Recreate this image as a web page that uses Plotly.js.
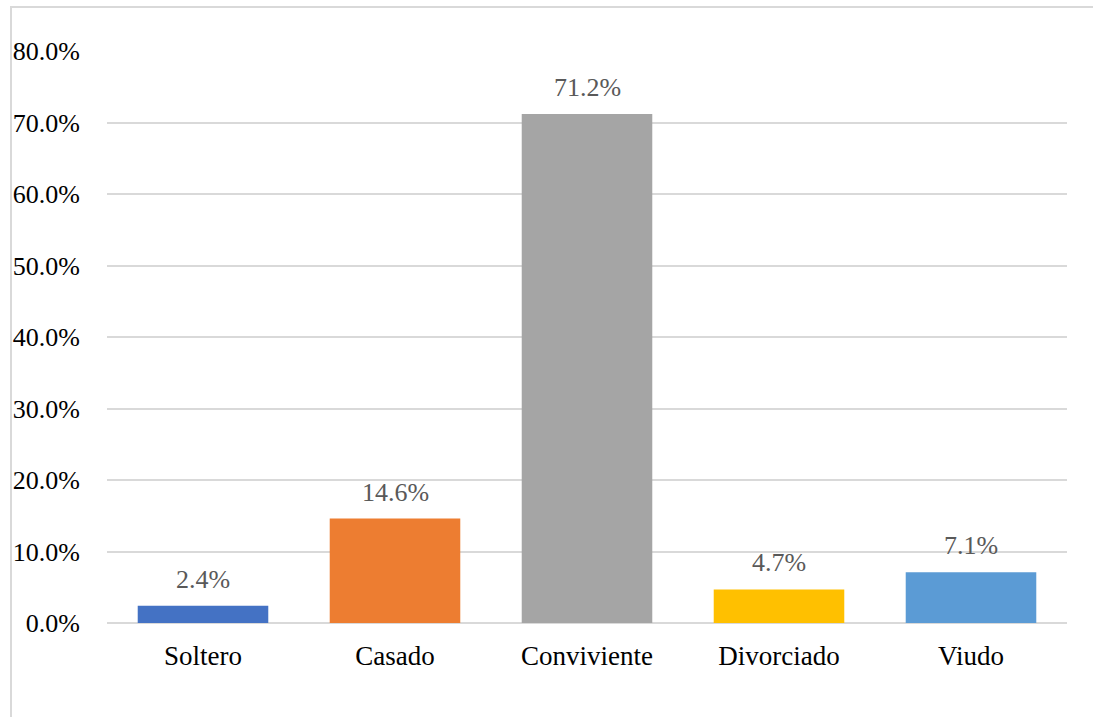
<!DOCTYPE html>
<html>
<head>
<meta charset="utf-8">
<script src="https://cdn.plot.ly/plotly-3.0.1.min.js"></script>
<style>
  html, body { margin: 0; padding: 0; background: #fff; }
  #chart { width: 1093px; height: 717px; position: absolute; left: 0; top: 0; }
  #frame { position: absolute; left: 10px; top: 6px; width: 1083px; height: 711px;
           border-top: 2px solid #d9d9d9; border-left: 2px solid #d9d9d9; pointer-events: none; }
</style>
</head>
<body>
<div id="chart"></div>
<div id="frame"></div>
<script>
const categories = ["Soltero", "Casado", "Conviviente", "Divorciado", "Viudo"];
const values = [2.4, 14.6, 71.2, 4.7, 7.1];
const labels = ["2.4%", "14.6%", "71.2%", "4.7%", "7.1%"];
const colors = ["#4472C4", "#ED7D31", "#A5A5A5", "#FFC000", "#5B9BD5"];
const yTickVals = [0, 10, 20, 30, 40, 50, 60, 70, 80];
const yTickText = ["0.0%", "10.0%", "20.0%", "30.0%", "40.0%", "50.0%", "60.0%", "70.0%", "80.0%"];

const font = "'Liberation Serif', 'Times New Roman', serif";

const trace = {
  type: "bar",
  x: categories,
  y: values,
  marker: { color: colors },
  hoverinfo: "none"
};

const annotations = categories.map((c, i) => ({
  x: c, y: values[i], xref: "x", yref: "y",
  text: labels[i], showarrow: false,
  yanchor: "bottom", yshift: 10,
  font: { family: font, size: 26, color: "#595959" }
}));

const layout = {
  width: 1093, height: 717,
  margin: { l: 107, r: 26, t: 51, b: 94 },
  paper_bgcolor: "#ffffff",
  plot_bgcolor: "#ffffff",
  bargap: 0.32,
  showlegend: false,
  font: { family: font, size: 26, color: "#000000" },
  xaxis: {
    type: "category",
    showgrid: false, zeroline: false, showline: false,
    ticks: "", ticklabelstandoff: 14,
    tickfont: { family: font, size: 27, color: "#000000" }
  },
  yaxis: {
    range: [0, 80],
    tickvals: yTickVals, ticktext: yTickText,
    showgrid: true, gridcolor: "#d9d9d9", gridwidth: 2,
    zeroline: true, zerolinecolor: "#d9d9d9", zerolinewidth: 2,
    showline: false, ticks: "", ticklabelstandoff: 26,
    tickfont: { family: font, size: 26, color: "#000000" }
  },
  annotations: annotations
};

Plotly.newPlot("chart", [trace], layout, { displayModeBar: false, staticPlot: true });
</script>
</body>
</html>
